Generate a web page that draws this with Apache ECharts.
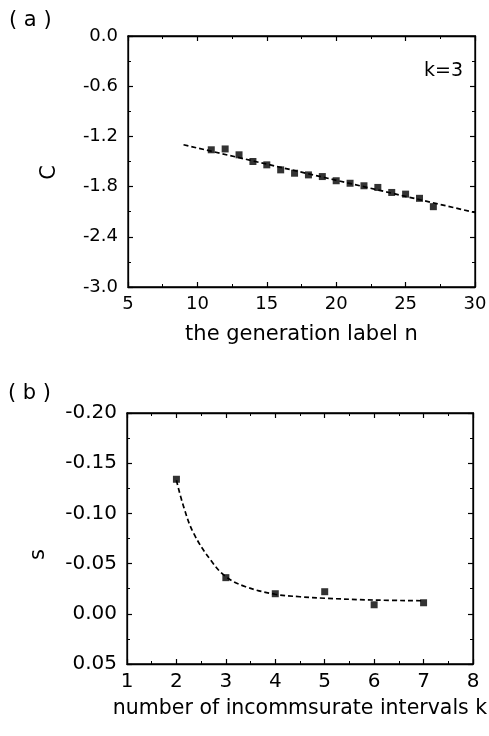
<!DOCTYPE html>
<html>
<head>
<meta charset="utf-8">
<script src="https://cdn.jsdelivr.net/npm/echarts@6/dist/echarts.min.js"></script>
<style>
  html, body { margin: 0; padding: 0; background: #fff; }
  #graphFrame { width: 489px; height: 736px; }
</style>
</head>
<body>
<div id="graphFrame"></div>
<script>
// (a) C vs generation label n, k=3
var genLabel = [11, 12, 13, 14, 15, 16, 17, 18, 19, 20, 21, 22, 23, 24, 25, 26, 27];
var cValues = [-1.36, -1.35, -1.42, -1.50, -1.54, -1.60, -1.64, -1.66, -1.68, -1.73, -1.76, -1.79, -1.81, -1.87, -1.89, -1.94, -2.04];
var cFitN = [9, 30];
var cFitC = [-1.30, -2.11];

// (b) s vs number of incommensurate intervals k
var kValues = [2, 3, 4, 5, 6, 7];
var sValues = [-0.134, -0.036, -0.020, -0.022, -0.009, -0.011];
var sFitK = [2, 2.15, 2.35, 2.7, 3, 3.4, 4, 4.5, 5, 6, 7];
var sFitS = [-0.133, -0.106, -0.080, -0.053, -0.037, -0.027, -0.0195, -0.017, -0.0155, -0.0137, -0.013];

var fontName = "DejaVu Sans";

function zip(xs, ys){
    let out = [];
    for(let i = 0, len = xs.length; i < len; i++){
        out.push([xs[i], ys[i]]);
    }
    return out;
}

function fixedLabel(digits){
    return function(v){
        if(Math.abs(v) < 1e-9) v = 0;
        return v.toFixed(digits);
    };
}

// one axis with inward ticks; labels only on the main side
function makeAxis(gridIndex, opt, showLabel, fontSize){
    let axis = {
        type: 'value',
        gridIndex: gridIndex,
        min: opt.min,
        max: opt.max,
        interval: opt.interval,
        inverse: !!opt.inverse,
        position: opt.position,
        axisLine: { show: true, onZero: false, lineStyle: { color: '#000', width: 1.3 } },
        axisTick: { show: true, inside: true, length: 5, lineStyle: { color: '#000', width: 1.2 } },
        minorTick: { show: true, splitNumber: 2, length: 3, lineStyle: { color: '#000', width: 1 } },
        splitLine: { show: false },
        axisLabel: {
            show: showLabel,
            color: '#000',
            fontFamily: fontName,
            fontSize: fontSize,
            margin: opt.margin,
            formatter: opt.formatter
        }
    };
    if(opt.name){
        axis.name = opt.name;
        axis.nameLocation = 'middle';
        axis.nameGap = opt.nameGap;
        axis.nameTextStyle = {
            color: '#000',
            fontFamily: fontName,
            fontSize: opt.nameSize,
            padding: opt.namePadding || 0
        };
    }
    return axis;
}

var dashStyle = { color: '#000', width: 1.7, type: [5, 3] };
var frame = { show: true, borderColor: '#000', borderWidth: 1.3, backgroundColor: 'transparent',
    outerBoundsMode: 'none', containLabel: false };

var option = {
    backgroundColor: '#fff',
    animation: false,
    grid: [
        Object.assign({ left: 128, top: 36, width: 347, height: 251 }, frame),
        Object.assign({ left: 127, top: 413, width: 346, height: 251 }, frame)
    ],
    xAxis: [
        makeAxis(0, { min: 5, max: 30, interval: 5, position: 'bottom', margin: 8, formatter: fixedLabel(0),
            name: 'the generation label n', nameGap: 37, nameSize: 21 }, true, 18),
        makeAxis(0, { min: 5, max: 30, interval: 5, position: 'top' }, false, 18),
        makeAxis(1, { min: 1, max: 8, interval: 1, position: 'bottom', margin: 8, formatter: fixedLabel(0),
            name: 'number of incommsurate intervals k', nameGap: 34, nameSize: 20.5 }, true, 20),
        makeAxis(1, { min: 1, max: 8, interval: 1, position: 'top' }, false, 20)
    ],
    yAxis: [
        makeAxis(0, { min: -3.0, max: 0.0, interval: 0.6, position: 'left', margin: 10, formatter: fixedLabel(1),
            name: 'C', nameGap: 68, nameSize: 21, namePadding: [0, 22, 0, 0] }, true, 18),
        makeAxis(0, { min: -3.0, max: 0.0, interval: 0.6, position: 'right' }, false, 18),
        makeAxis(1, { min: -0.20, max: 0.05, interval: 0.05, inverse: true, position: 'left', margin: 10, formatter: fixedLabel(2),
            name: 's', nameGap: 78, nameSize: 21, namePadding: [0, 32, 0, 0] }, true, 20),
        makeAxis(1, { min: -0.20, max: 0.05, interval: 0.05, inverse: true, position: 'right' }, false, 20)
    ],
    graphic: [
        { type: 'text', left: 9, top: 10, style: { text: '( a )', font: '21px "DejaVu Sans"', fill: '#000' } },
        { type: 'text', left: 8, top: 383, style: { text: '( b )', font: '21px "DejaVu Sans"', fill: '#000' } },
        { type: 'text', left: 424, top: 62, style: { text: 'k=3', font: '19px "DejaVu Sans"', fill: '#000' } }
    ],
    series: [
        {
            type: 'line', xAxisIndex: 0, yAxisIndex: 0,
            data: zip(cFitN, cFitC),
            showSymbol: false, lineStyle: dashStyle, z: 2
        },
        {
            type: 'scatter', xAxisIndex: 0, yAxisIndex: 0,
            data: zip(genLabel, cValues),
            symbol: 'rect', symbolSize: 7, itemStyle: { color: '#000' }, z: 3
        },
        {
            type: 'line', xAxisIndex: 2, yAxisIndex: 2,
            data: zip(sFitK, sFitS),
            smooth: 0.4, showSymbol: false, lineStyle: dashStyle, z: 2
        },
        {
            type: 'scatter', xAxisIndex: 2, yAxisIndex: 2,
            data: zip(kValues, sValues),
            symbol: 'rect', symbolSize: 7, itemStyle: { color: '#000' }, z: 3
        }
    ]
};

var dom = document.getElementById("graphFrame");
var myChart = echarts.init(dom, null, { renderer: 'canvas' });
myChart.setOption(option, true);
</script>
</body>
</html>
